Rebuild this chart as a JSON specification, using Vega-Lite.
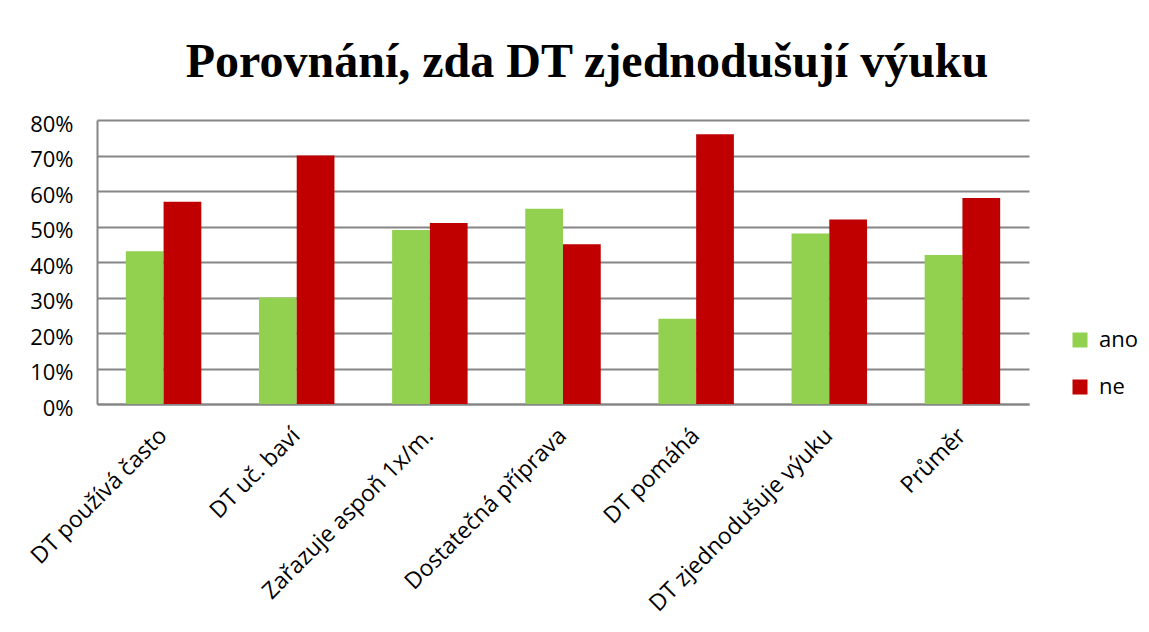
{
  "$schema": "https://vega.github.io/schema/vega-lite/v6.json",
  "width": 932,
  "height": 284,
  "autosize": {"type": "none"},
  "padding": {"left": 97, "top": 120, "right": 120, "bottom": 228},
  "background": "white",
  "title": {
    "text": "Porovnání, zda DT zjednodušují výuku",
    "font": "Liberation Serif",
    "fontSize": 48,
    "fontWeight": "bold",
    "color": "black",
    "anchor": "middle",
    "dx": 24,
    "offset": 26
  },
  "data": {
    "values": [
      {"kategorie": "DT používá často", "odpoved": "ano", "podil": 0.43},
      {"kategorie": "DT používá často", "odpoved": "ne", "podil": 0.57},
      {"kategorie": "DT uč. baví", "odpoved": "ano", "podil": 0.30},
      {"kategorie": "DT uč. baví", "odpoved": "ne", "podil": 0.70},
      {"kategorie": "Zařazuje aspoň 1x/m.", "odpoved": "ano", "podil": 0.49},
      {"kategorie": "Zařazuje aspoň 1x/m.", "odpoved": "ne", "podil": 0.51},
      {"kategorie": "Dostatečná příprava", "odpoved": "ano", "podil": 0.55},
      {"kategorie": "Dostatečná příprava", "odpoved": "ne", "podil": 0.45},
      {"kategorie": "DT pomáhá", "odpoved": "ano", "podil": 0.24},
      {"kategorie": "DT pomáhá", "odpoved": "ne", "podil": 0.76},
      {"kategorie": "DT zjednodušuje výuku", "odpoved": "ano", "podil": 0.48},
      {"kategorie": "DT zjednodušuje výuku", "odpoved": "ne", "podil": 0.52},
      {"kategorie": "Průměr", "odpoved": "ano", "podil": 0.42},
      {"kategorie": "Průměr", "odpoved": "ne", "podil": 0.58}
    ]
  },
  "mark": {"type": "bar"},
  "encoding": {
    "x": {
      "field": "kategorie",
      "type": "nominal",
      "sort": null,
      "title": null,
      "scale": {"paddingInner": 0.433, "paddingOuter": 0.2165},
      "axis": {
        "labelAngle": -45,
        "labelFont": "Open Sans",
        "labelFontSize": 23,
        "labelColor": "black",
        "labelPadding": 20,
        "labelOffset": -8,
        "ticks": false,
        "domainColor": "#868686",
        "domainWidth": 2,
        "labelLimit": 400
      }
    },
    "xOffset": {"field": "odpoved", "type": "nominal", "sort": ["ano", "ne"]},
    "y": {
      "field": "podil",
      "type": "quantitative",
      "title": null,
      "scale": {"domain": [0, 0.8], "nice": false},
      "axis": {
        "format": ".0%",
        "values": [0, 0.1, 0.2, 0.3, 0.4, 0.5, 0.6, 0.7, 0.8],
        "labelFont": "Open Sans",
        "labelFontSize": 22,
        "labelColor": "black",
        "labelPadding": 24,
        "labelOffset": 4,
        "ticks": false,
        "grid": true,
        "gridColor": "#868686",
        "gridWidth": 2,
        "domainColor": "#868686",
        "domainWidth": 2
      }
    },
    "color": {
      "field": "odpoved",
      "type": "nominal",
      "sort": ["ano", "ne"],
      "scale": {"domain": ["ano", "ne"], "range": ["#92D050", "#C00000"]},
      "legend": {
        "title": null,
        "orient": "none",
        "legendX": 972,
        "legendY": 209,
        "symbolType": "square",
        "symbolSize": 225,
        "symbolStrokeWidth": 0,
        "labelFont": "Open Sans",
        "labelFontSize": 22,
        "labelColor": "black",
        "rowPadding": 25,
        "labelOffset": 8
      }
    }
  },
  "config": {
    "view": {"stroke": null}
  }
}
